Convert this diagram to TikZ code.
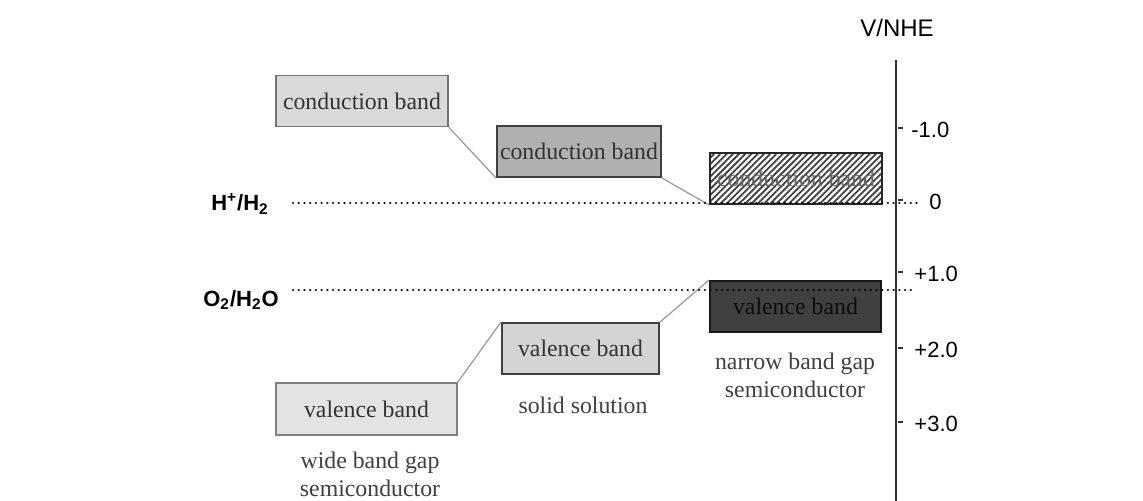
\documentclass[tikz,border=0pt]{standalone}
\usepackage{fontspec}
\setmainfont{Liberation Serif}
\setsansfont{Liberation Sans}
\usetikzlibrary{patterns.meta}

\begin{document}
\begin{tikzpicture}[x=0.5pt,y=-0.5pt,
	band/.style={draw,inner sep=0pt,minimum height=25.5pt,font=\fontsize{11.9}{14.5}\selectfont,text=black!80},
	link/.style={draw=black!40,line width=0.6pt},
	level/.style={line width=1.35pt,dash pattern=on 0.01pt off 2.85pt,line cap=round},
	caption/.style={align=center,inner sep=0pt,font=\fontsize{11.9}{14}\selectfont,text=black!75},
	couple/.style={inner sep=0pt,font=\sffamily\bfseries\fontsize{11}{13}\selectfont}]
	\useasboundingbox (0,0) rectangle (1143,501);

	\node[band,fill=black!15,draw=black!55,line width=0.75pt,minimum width=86pt] (cb1) at (362,101) {conduction band};
	\node[band,fill=black!31,draw=black!75,line width=1pt,minimum width=82pt] (cb2) at (579,151.5) {conduction band};
	\node[band,pattern={Lines[angle=45,distance=2.2pt,line width=0.9pt]},pattern color=black!75,draw=black!85,line width=1pt,minimum width=86pt,text=black!60] (cb3) at (796,178.5) {conduction band};
	\node[band,fill=black!75,draw=black!90,line width=1pt,minimum width=85.5pt,text=black!95] (vb3) at (795.5,306.5) {valence band};
	\node[band,fill=black!17,draw=black!75,line width=1pt,minimum width=78.5pt] (vb2) at (580.5,348.5) {valence band};
	\node[band,fill=black!11,draw=black!50,line width=0.75pt,minimum width=90.5pt,minimum height=26pt] (vb1) at (366.5,409) {valence band};

	\node[caption] (ss) at (583,405) {solid solution};
	\node[caption] (narrow) at (795,375) {narrow band gap\\semiconductor};
	\node[caption] (wide) at (370,474) {wide band gap\\semiconductor};

	\path[link] (cb1.south east) -- (cb2.south west);
	\path[link] (cb2.south east) -- (cb3.south west);
	\path[link] (vb1.north east) -- (vb2.north west);
	\path[link] (vb2.north east) -- (vb3.north west);

	\coordinate (top) at (896,60);
	\coordinate (bottom) at (896,501);
	\draw[line width=1.3pt,black!80] (top) -- (bottom);
	\node[inner sep=0pt,font=\sffamily\fontsize{12}{14}\selectfont] (unit) at (897,28) {V/NHE};

	\begin{scope}
		\clip (898,60) rectangle (957,501);
		\foreach \y/\x/\v [count=\n] in {128/911/-1.0,200/929/0,272/914/+1.0,348/914/+2.0,422/914/+3.0}
		{
			\coordinate (T\n) at (896,\y);
			\draw[line width=1pt,black!80] (T\n) -- ++(7,0);
			\node[anchor=west,inner sep=0pt,font=\sffamily\fontsize{11}{13}\selectfont] (L\n) at (\x,\y+2) {\v};
		}
	\end{scope}

	\coordinate (hl) at (293,203);
	\coordinate (hr) at (918,203);
	\coordinate (ol) at (293,290);
	\coordinate (or) at (911,290);
	\draw[level] (hl) -- (hr);
	\draw[level] (ol) -- (or);
	\node[couple] (hyd) at (240,204) {H\textsuperscript{+}/H\textsubscript{2}};
	\node[couple] (oxy) at (241,300) {O\textsubscript{2}/H\textsubscript{2}O};
\end{tikzpicture}
\end{document}
